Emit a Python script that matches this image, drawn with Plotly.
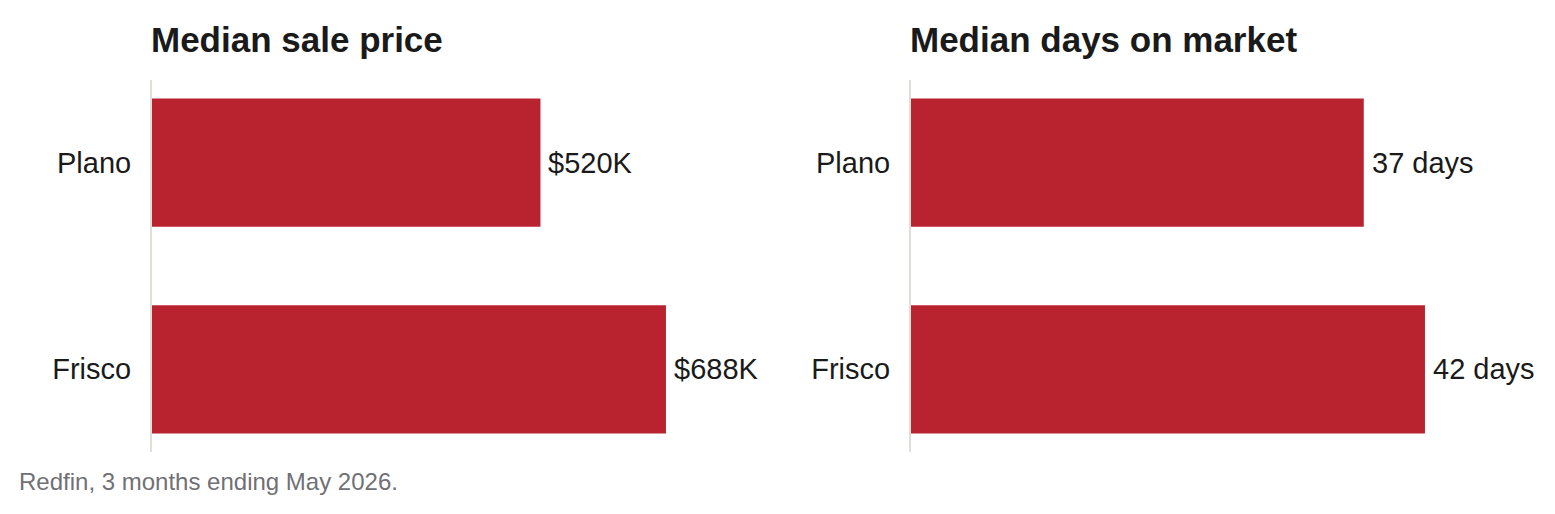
import plotly.graph_objects as go

# data
cities = ["Plano", "Frisco"]
price_k = [520, 688]
price_labels = ["$520K", "$688K"]
days = [37, 42]
days_labels = ["37 days", "42 days"]

titles = ["Median sale price", "Median days on market"]
source = "Redfin, 3 months ending May 2026."

W, H = 1555, 514
OFF = 8  # page body margin
RED = "#b8232f"
INK = "#1a1a1a"
FONT = "Liberation Sans, Arial, Helvetica, sans-serif"


def px(x):
    return (x - OFF) / W


def py(y):
    return 1 - (y - OFF) / H


fig = go.Figure()
panels = [(price_k, price_labels, "x", "y"), (days, days_labels, "x2", "y2")]
for vals, labels, xa, ya in panels:
    fig.add_trace(go.Bar(
        x=vals, y=cities, orientation="h", width=0.62,
        marker=dict(color=RED, line=dict(width=0)),
        xaxis=xa, yaxis=ya, hoverinfo="skip",
    ))
    for v, c, lab in zip(vals, cities, labels):
        fig.add_annotation(
            x=v, y=c, xref=xa, yref=ya, text=lab, showarrow=False,
            xanchor="left", yanchor="middle", xshift=6, yshift=0,
            font=dict(size=29, color=INK, family=FONT),
        )

ydom = [py(452), py(80)]
xaxis_common = dict(showgrid=False, zeroline=False, showline=False,
                    showticklabels=False, ticks="")
yaxis_common = dict(showgrid=False, zeroline=False, showline=True,
                    linecolor="#dfdfda", linewidth=2, ticks="",
                    range=[1.4, -0.4], domain=ydom, ticklabelstandoff=13,
                    tickfont=dict(size=29, color=INK, family=FONT))

fig.update_layout(
    width=W, height=H,
    margin=dict(l=0, r=0, t=0, b=0),
    paper_bgcolor="white", plot_bgcolor="white",
    showlegend=False,
    font=dict(family=FONT, color=INK),
    xaxis=dict(domain=[px(152), px(760)], range=[0, max(price_k) * 1.183],
               **xaxis_common),
    yaxis=dict(anchor="x", **yaxis_common),
    xaxis2=dict(domain=[px(911), px(1519)], range=[0, max(days) * 1.183],
                **xaxis_common),
    yaxis2=dict(anchor="x2", **yaxis_common),
)

for i, t in enumerate(titles):
    fig.add_annotation(
        text="<b>%s</b>" % t, xref="paper", yref="paper",
        x=px([149, 908][i]), y=py(61), xanchor="left", yanchor="bottom",
        showarrow=False, font=dict(size=35, color=INK, family=FONT),
    )

fig.add_annotation(
    text=source, xref="paper", yref="paper", x=px(17), y=py(497),
    xanchor="left", yanchor="bottom", showarrow=False,
    font=dict(size=24, color="#707075", family=FONT),
)

fig.write_html("out.html")
